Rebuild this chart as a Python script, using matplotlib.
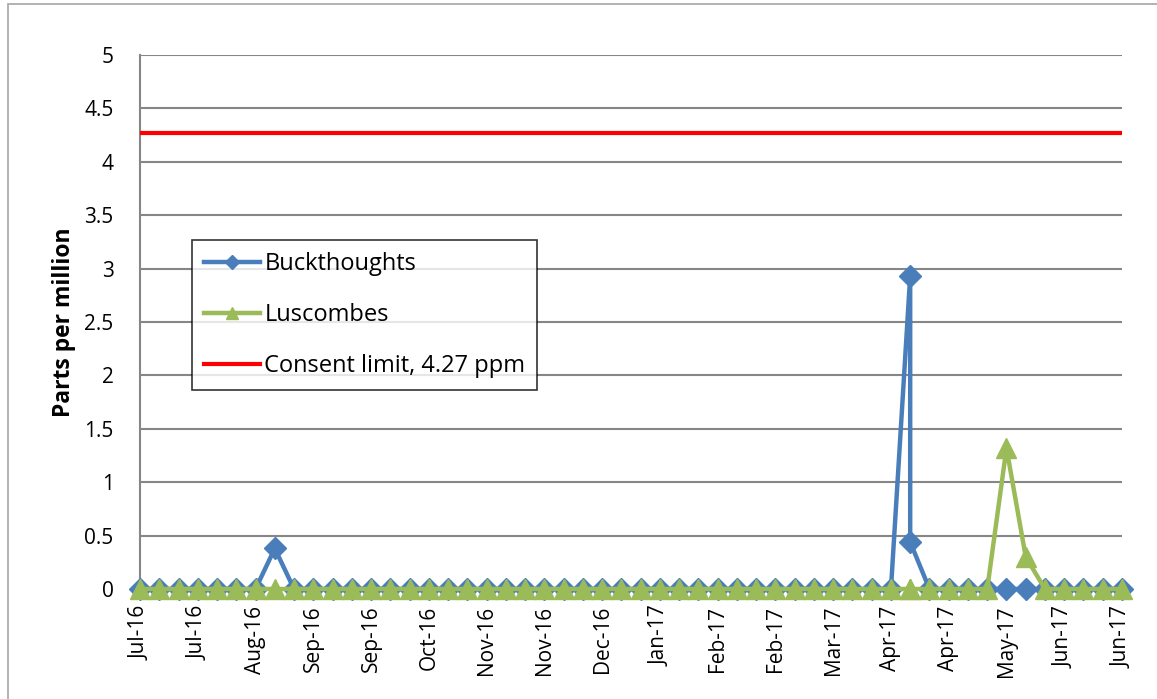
import matplotlib.pyplot as plt
import matplotlib.dates as mdates
from matplotlib.patches import Rectangle
import pandas as pd

# weekly sampling dates (one date sampled twice in April 2017)
sample_dates = [
    '2016-07-06', '2016-07-13', '2016-07-20', '2016-07-27', '2016-08-03', '2016-08-10',
    '2016-08-17', '2016-08-24', '2016-08-31', '2016-09-07', '2016-09-14', '2016-09-21',
    '2016-09-28', '2016-10-05', '2016-10-12', '2016-10-19', '2016-10-26', '2016-11-02',
    '2016-11-09', '2016-11-16', '2016-11-23', '2016-11-30', '2016-12-07', '2016-12-14',
    '2016-12-21', '2016-12-28', '2017-01-04', '2017-01-11', '2017-01-18', '2017-01-25',
    '2017-02-01', '2017-02-08', '2017-02-15', '2017-02-22', '2017-03-01', '2017-03-08',
    '2017-03-15', '2017-03-22', '2017-03-29', '2017-04-05', '2017-04-12', '2017-04-12',
    '2017-04-19', '2017-04-26', '2017-05-03', '2017-05-10', '2017-05-17', '2017-05-24',
    '2017-05-31', '2017-06-07', '2017-06-14', '2017-06-21', '2017-06-28',
]

buckthoughts = [0] * 53
buckthoughts[7] = 0.38
buckthoughts[40] = 2.93
buckthoughts[41] = 0.44

luscombes = [0] * 53
luscombes[46] = 1.32
luscombes[47] = 0.30

consent_limit = 4.27

dates = pd.to_datetime(sample_dates)

plt.rcParams['font.family'] = ['Open Sans', 'DejaVu Sans']

fig = plt.figure(figsize=(11.57, 6.99), dpi=100)
ax = fig.add_axes([140 / 1157, 1 - 589 / 699, 982 / 1157, 534 / 699])

# outer chart border (partly off the image like the original)
fig.patches.append(Rectangle((8 / 1157, -0.05), 1.1, 1 - 4 / 699 + 0.05,
                             transform=fig.transFigure, fill=False,
                             edgecolor='#a6a6a6', linewidth=1.2))

ax.plot(dates, buckthoughts, color='#4A7EBB', lw=3.2, marker='D', ms=11,
        mec='#4A7EBB', label='Buckthoughts', clip_on=False, zorder=3)
ax.plot(dates, luscombes, color='#9BBB59', lw=3.2, marker='^', ms=14,
        mec='#9BBB59', label='Luscombes', clip_on=False, zorder=4)
ax.plot(dates, [consent_limit] * len(dates), color='#FF0000', lw=3,
        label='Consent limit, 4.27 ppm', zorder=5)

ax.set_xlim(dates[0], dates[-1])
ax.set_ylim(0, 5)
ax.set_yticks([0, 0.5, 1, 1.5, 2, 2.5, 3, 3.5, 4, 4.5, 5])
ax.set_yticklabels(['0', '0.5', '1', '1.5', '2', '2.5', '3', '3.5', '4', '4.5', '5'])
ax.set_xticks(pd.date_range(dates[0], dates[-1], freq='21D'))
ax.xaxis.set_major_formatter(mdates.DateFormatter('%b-%y'))
plt.setp(ax.get_xticklabels(), rotation=90)
ax.tick_params(axis='both', length=0, labelsize=15)
ax.tick_params(axis='x', pad=12)
ax.tick_params(axis='y', pad=19)

ax.grid(axis='y', color='#868686', lw=1.5)
ax.set_axisbelow(True)
for side in ['top', 'right', 'bottom']:
    ax.spines[side].set_visible(False)
ax.spines['left'].set_color('#868686')
ax.spines['left'].set_linewidth(1.5)

ax.set_ylabel('Parts per million', fontsize=16.5, fontweight='bold', labelpad=6)

leg = ax.legend(loc='upper left', bbox_to_anchor=((192 - 140) / 982, (589 - 240) / 534),
                frameon=True, fancybox=False, edgecolor='black', fontsize=17,
                handlelength=2.4, handletextpad=0.17, labelspacing=1.15,
                borderpad=0.5, markerscale=0.65, borderaxespad=0)
leg.get_frame().set_linewidth(1.2)

fig.savefig('out.png', dpi=100)
